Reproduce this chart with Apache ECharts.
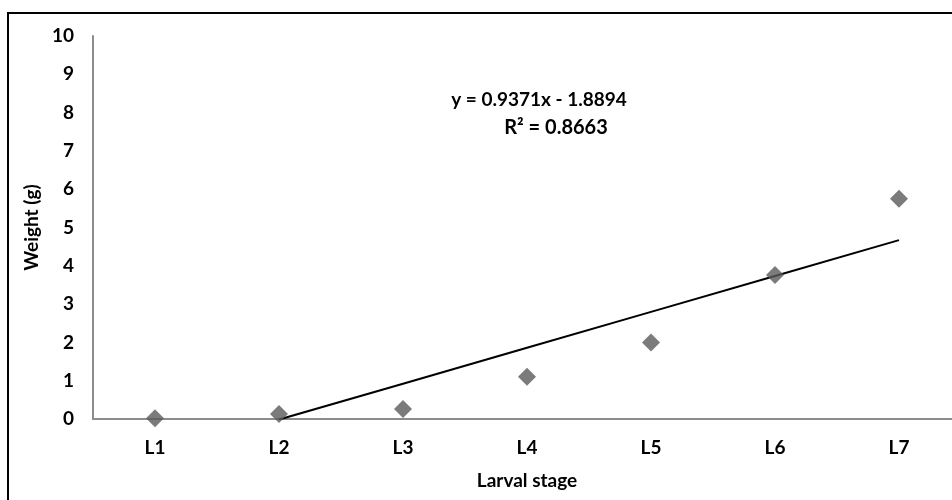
<!DOCTYPE html>
<html>
<head>
<meta charset="utf-8">
<script src="https://cdn.jsdelivr.net/npm/echarts@6/dist/echarts.min.js"></script>
<style>
  html, body { margin: 0; padding: 0; background: #fff; }
  #chart { width: 952px; height: 500px; }
</style>
</head>
<body>
<div id="chart"></div>
<script>
// larval stages and measured weight (g)
const stages = ['L1', 'L2', 'L3', 'L4', 'L5', 'L6', 'L7']
const weights = [0.02, 0.13, 0.26, 1.1, 2.0, 3.76, 5.75]
const yTicks = [0, 1, 2, 3, 4, 5, 6, 7, 8, 9, 10]

// linear trendline as printed on the chart
const slope = 0.9371
const intercept = -1.8894
const rSquared = 0.8663

const FONT = 'Lato'

// trendline over L2..L7 (x = 1..7 in the fit)
const trend = stages.map((_, i) => i === 0 ? null : +(slope * (i + 1) + intercept).toFixed(4))

const chart = echarts.init(document.getElementById('chart'))

const option = {
  animation: false,
  grid: {
    left: 93,
    top: 36,
    width: 868,
    height: 383,
    outerBoundsMode: 'none'
  },
  xAxis: {
    type: 'category',
    data: stages,
    boundaryGap: true,
    name: 'Larval stage',
    nameLocation: 'middle',
    nameGap: 52,
    nameTextStyle: { fontFamily: FONT, fontWeight: 'bold', fontSize: 19, color: '#000' },
    axisTick: { show: false },
    axisLine: { lineStyle: { color: '#8c8c8c', width: 2 } },
    axisLabel: { fontFamily: FONT, fontWeight: 'bold', fontSize: 19, color: '#000', margin: 19 },
    splitLine: { show: false }
  },
  yAxis: {
    type: 'value',
    min: yTicks[0],
    max: yTicks[yTicks.length - 1],
    interval: 1,
    name: 'Weight (g)',
    nameLocation: 'middle',
    nameGap: 48,
    nameTextStyle: { fontFamily: FONT, fontWeight: 'bold', fontSize: 19, color: '#000' },
    axisTick: { show: false },
    axisLine: { show: true, lineStyle: { color: '#8c8c8c', width: 2 } },
    axisLabel: { fontFamily: FONT, fontWeight: 'bold', fontSize: 19, color: '#000', margin: 19 },
    splitLine: { show: false }
  },
  graphic: [
    {
      type: 'rect',
      shape: { x: 8, y: 13, width: 1200, height: 1200 },
      style: { fill: 'none', stroke: '#000', lineWidth: 2 },
      silent: true
    },
    {
      type: 'text',
      x: 539,
      y: 100,
      style: {
        text: 'y = ' + slope + 'x - ' + Math.abs(intercept),
        fontFamily: FONT, fontWeight: 'bold', fontSize: 19, fill: '#000',
        textAlign: 'center', textVerticalAlign: 'middle'
      }
    },
    {
      type: 'text',
      x: 556,
      y: 128,
      style: {
        text: 'R² = ' + rSquared,
        fontFamily: FONT, fontWeight: 'bold', fontSize: 20, fill: '#000',
        textAlign: 'center', textVerticalAlign: 'middle'
      }
    }
  ],
  series: [
    {
      name: 'Trend',
      type: 'line',
      data: trend,
      symbol: 'none',
      clip: true,
      lineStyle: { color: '#000', width: 2 },
      z: 1
    },
    {
      name: 'Weight',
      type: 'scatter',
      data: weights,
      symbol: 'diamond',
      symbolSize: [18, 18],
      itemStyle: { color: '#5a5a5a' },
      z: 2
    }
  ]
}

chart.setOption(option)
</script>
</body>
</html>
